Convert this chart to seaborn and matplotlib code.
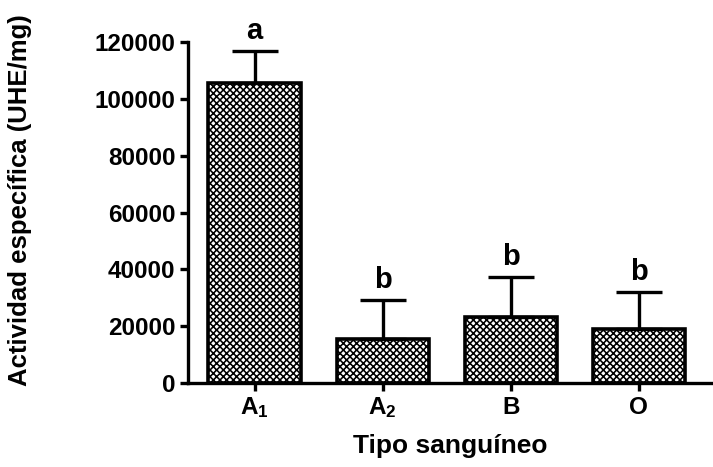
import matplotlib
matplotlib.use("Agg")
import matplotlib.pyplot as plt
import seaborn as sns
import pandas as pd

categories = ["A1", "A2", "B", "O"]
tick_labels = [r"$\mathbf{A_1}$", r"$\mathbf{A_2}$", "B", "O"]
means = [105500, 15500, 23200, 19000]
errors = [11500, 13700, 14100, 13000]
letters = ["a", "b", "b", "b"]

sns.set_style("ticks")
plt.rcParams['font.family'] = ['Liberation Sans', 'DejaVu Sans']
plt.rcParams['font.weight'] = 'bold'
plt.rcParams['mathtext.fontset'] = 'custom'
plt.rcParams['mathtext.bf'] = 'Liberation Sans:bold'
plt.rcParams['mathtext.rm'] = 'Liberation Sans:bold'
plt.rcParams['hatch.linewidth'] = 1.15
plt.rcParams['hatch.color'] = 'black'
for k in ['text.color', 'axes.labelcolor', 'xtick.color', 'ytick.color', 'axes.edgecolor']:
    plt.rcParams[k] = 'black'

df = pd.DataFrame({"tipo": categories, "val": means})

fig = plt.figure(figsize=(7.13, 4.67), dpi=100)
ax = fig.add_axes([188/713, 1-383/467, 1-188/713, (383-42)/467])

sns.barplot(data=df, x="tipo", y="val", ax=ax, color="white", errorbar=None,
            width=0.72, edgecolor="black", linewidth=2.6, hatch="xxxxx")

ax.errorbar(range(len(categories)), means, yerr=[[0]*4, errors], fmt="none",
            ecolor="black", elinewidth=2.4, capsize=16.5, capthick=2.4, zorder=5)

for i, (m, e, t) in enumerate(zip(means, errors, letters)):
    ax.text(i, m + e + 2000, t, ha="center", va="bottom", fontsize=21,
            fontweight="bold")

ax.set_xlim(-0.52, 3.58)
ax.set_ylim(0, 120000)
ax.set_yticks(range(0, 120001, 20000))
ax.set_yticklabels([str(v) for v in range(0, 120001, 20000)], fontsize=17.5,
                   fontweight="bold")
ax.set_xticks(range(len(categories)))
ax.set_xticklabels(tick_labels, fontsize=17.5, fontweight="bold")
ax.set_xlabel("Tipo sanguíneo", fontsize=19, fontweight="bold", labelpad=10)
ax.set_ylabel("Actividad específica (UHE/mg)", fontsize=18.5, fontweight="bold")
ax.yaxis.set_label_coords(-0.297, 0.535)
for s in ["left", "bottom"]:
    ax.spines[s].set_linewidth(2.4)
sns.despine(ax=ax)
ax.tick_params(axis="both", width=2.4, length=6, direction="out", pad=3)
for c in ax.get_children():
    try:
        c.set_clip_on(False)
    except Exception:
        pass

fig.savefig("out.png", dpi=100)
